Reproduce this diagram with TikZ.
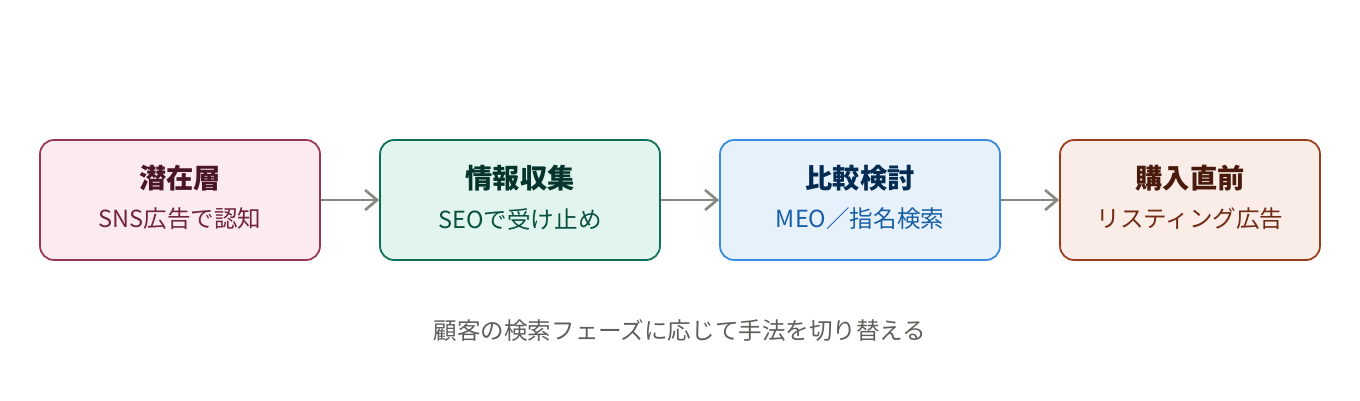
\documentclass[tikz,border=0pt]{standalone}
\usepackage{fontspec}
\setmainfont{Noto Sans CJK JP}
\usepackage{tikz}
\usetikzlibrary{positioning,arrows.meta}
\usepackage{xcolor}
\definecolor{pinkfill}{HTML}{FBEAF0}\definecolor{pinkline}{HTML}{993556}
\definecolor{pinkhead}{HTML}{4B1528}\definecolor{pinksub}{HTML}{72243E}
\definecolor{tealfill}{HTML}{E1F5EE}\definecolor{tealline}{HTML}{0F6E56}
\definecolor{tealhead}{HTML}{04342C}\definecolor{tealsub}{HTML}{085041}
\definecolor{bluefill}{HTML}{E6F1FB}\definecolor{blueline}{HTML}{378ADD}
\definecolor{bluehead}{HTML}{042C53}\definecolor{bluesub}{HTML}{185FA5}
\definecolor{rustfill}{HTML}{FAECE7}\definecolor{rustline}{HTML}{993C1D}
\definecolor{rusthead}{HTML}{4A1B0C}\definecolor{rustsub}{HTML}{712B13}
\definecolor{arrowgray}{HTML}{888780}\definecolor{notegray}{HTML}{5F5E5A}

\begin{document}
\begin{tikzpicture}[x=0.02cm,y=-0.02cm,>={Straight Barb[length=2.4mm,width=4mm]},
  phase/.style={draw,rounded corners=0.28cm,line width=1pt,minimum width=5.6cm,minimum height=2.4cm},
  head/.style={font=\bfseries\fontsize{15.5pt}{18pt}\selectfont},
  sub/.style={font=\fontsize{13.4pt}{16pt}\selectfont},
  flow/.style={->,draw=arrowgray,line width=1.5pt}]
\useasboundingbox (0,0) rectangle (1360,400);
\node[phase,draw=pinkline,fill=pinkfill] (latent) at (180,200) {};
\node[phase,draw=tealline,fill=tealfill] (gather) at (520,200) {};
\node[phase,draw=blueline,fill=bluefill] (compare) at (860,200) {};
\node[phase,draw=rustline,fill=rustfill,minimum width=5.2cm] (buy) at (1190,200) {};
\node[head,text=pinkhead] (latentT) at (180,178) {潜在層};
\node[sub,text=pinksub] (latentS) at (180,219) {SNS広告で認知};
\node[head,text=tealhead] (gatherT) at (520,178) {情報収集};
\node[sub,text=tealsub] (gatherS) at (520,219) {SEOで受け止め};
\node[head,text=bluehead] (compareT) at (860,178) {比較検討};
\node[sub,text=bluesub] (compareS) at (860,219) {MEO／指名検索};
\node[head,text=rusthead] (buyT) at (1190,178) {購入直前};
\node[sub,text=rustsub] (buyS) at (1190,219) {リスティング広告};
\draw[flow] (latent) -- (gather);
\draw[flow] (gather) -- (compare);
\draw[flow] (compare) -- (buy);
\node[sub,text=notegray] (note) at (680,330) {顧客の検索フェーズに応じて手法を切り替える};
\end{tikzpicture}
\end{document}
